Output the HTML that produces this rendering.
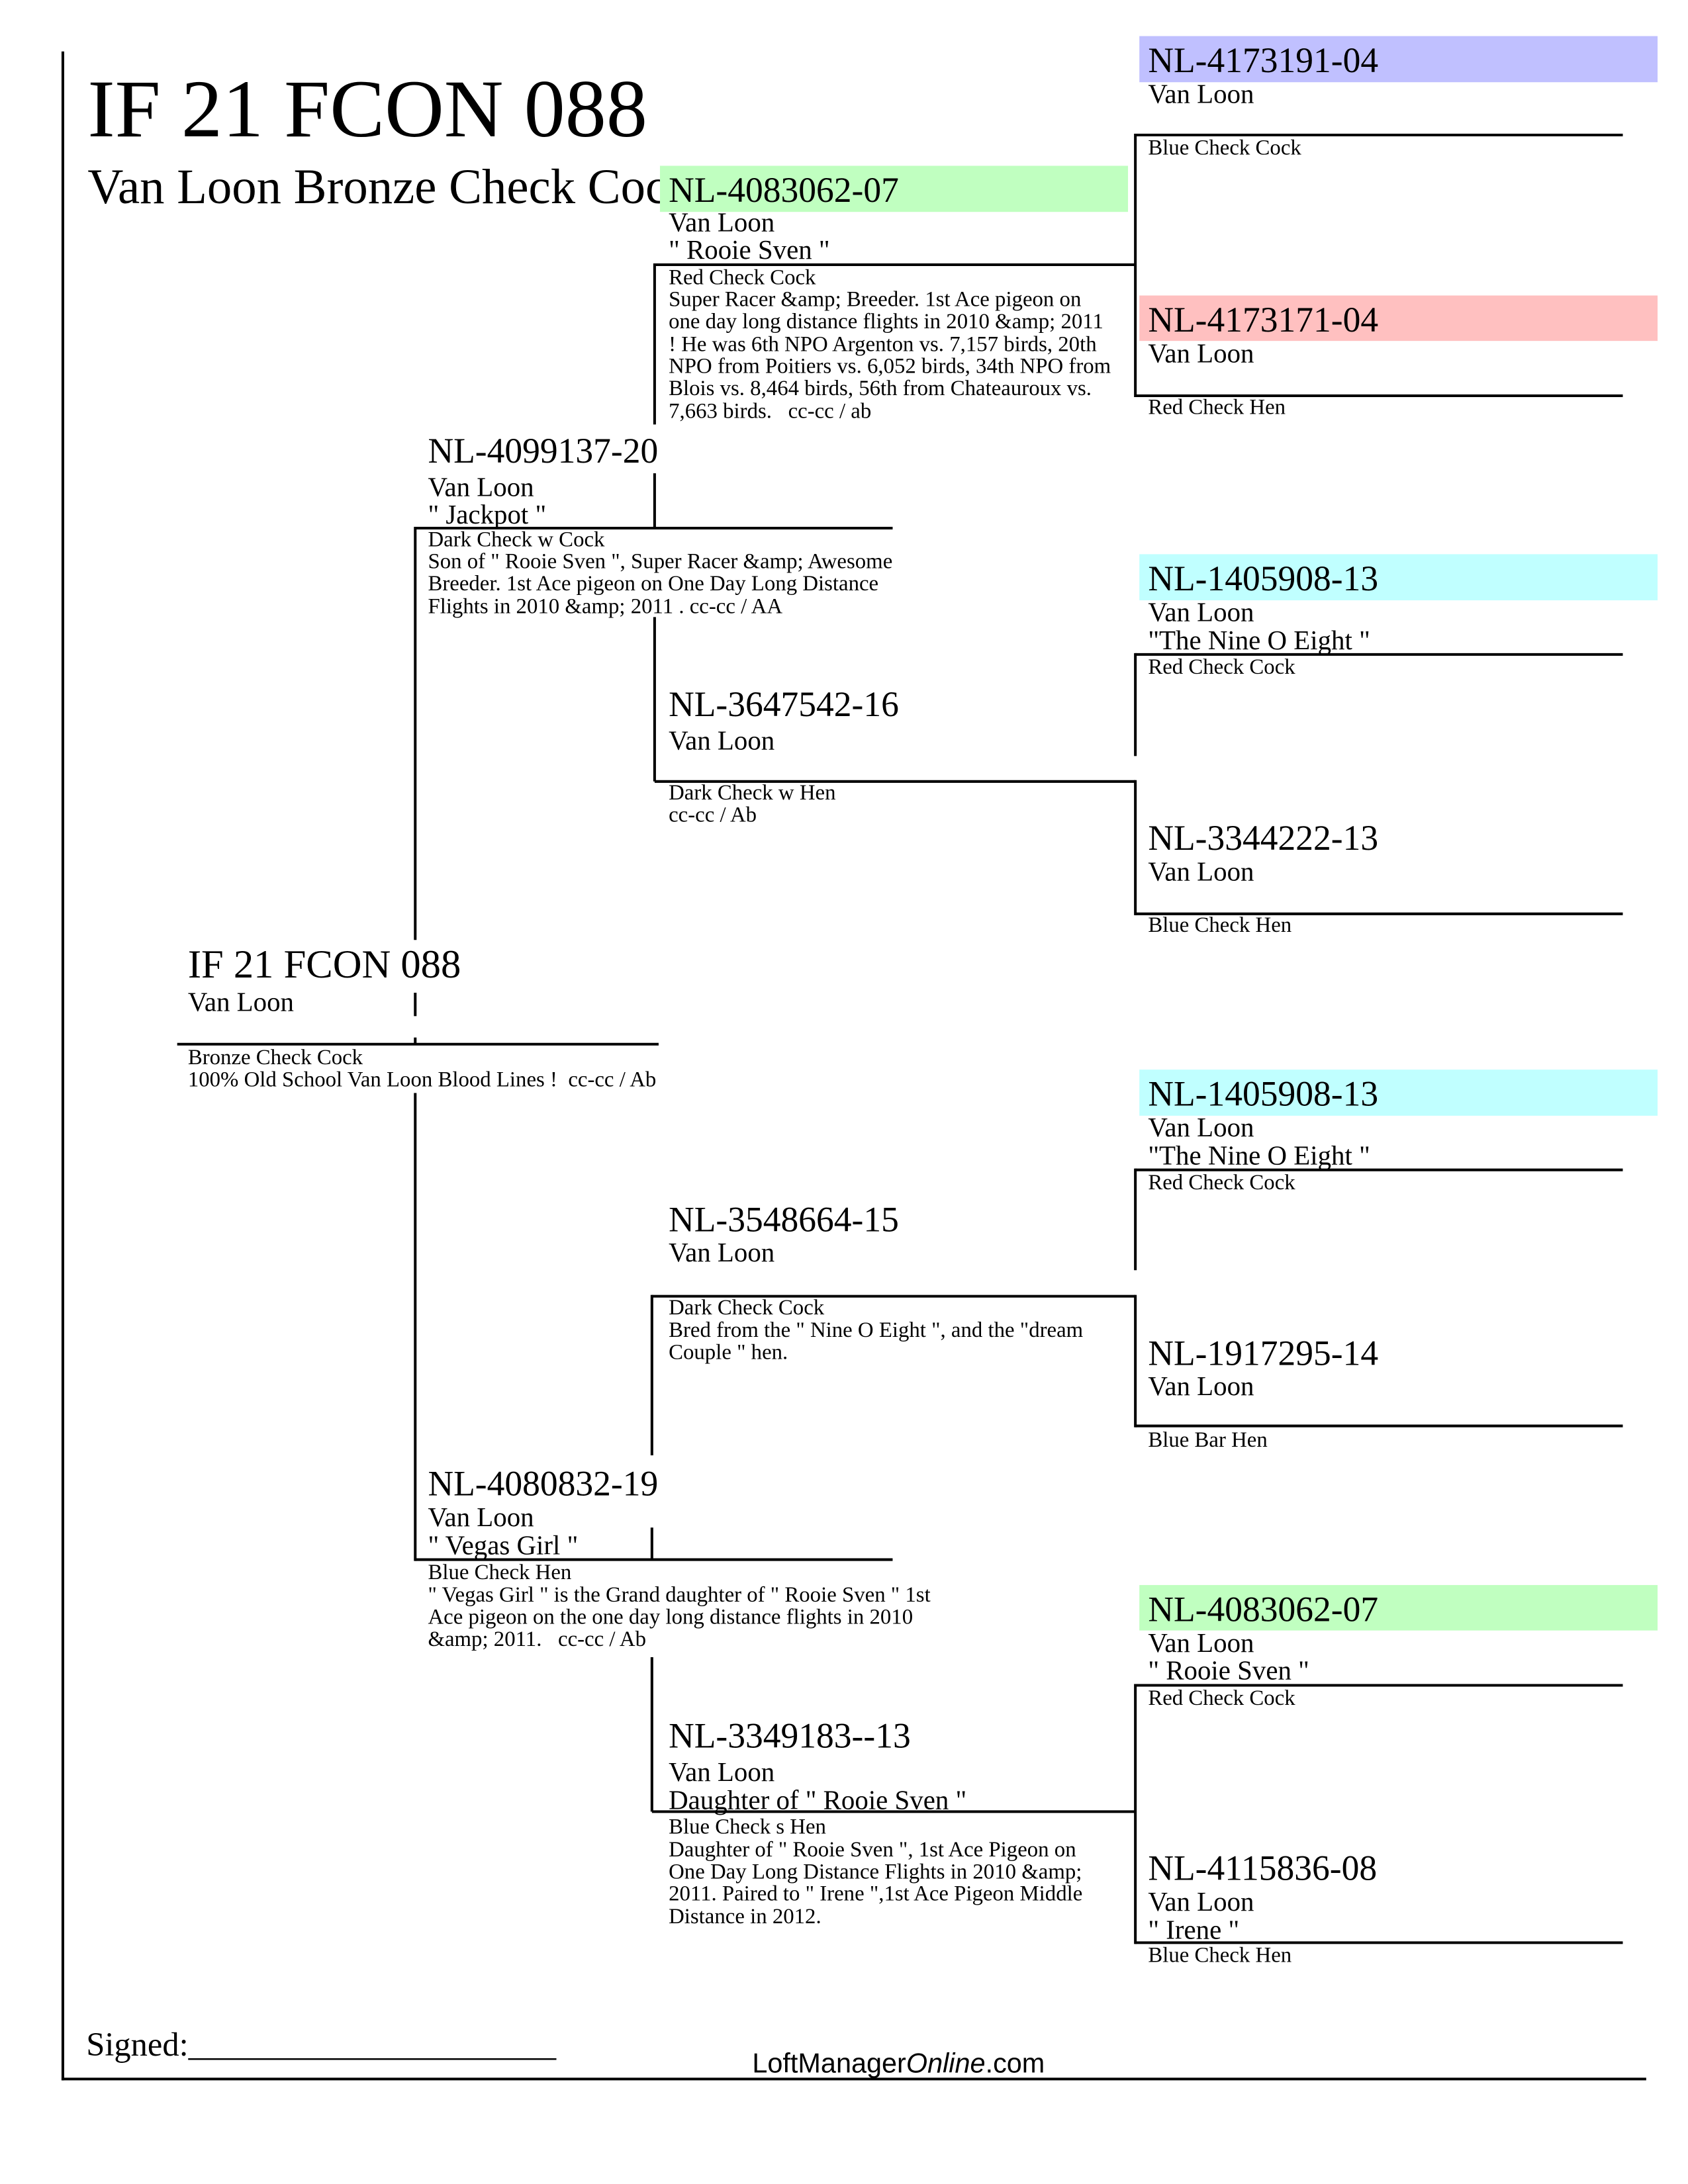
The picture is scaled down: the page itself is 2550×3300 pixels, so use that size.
<!DOCTYPE html>
<html><head><meta charset="utf-8"><style>
html,body{margin:0;padding:0;background:#fff;}
svg{display:block;}
text{font-family:"Liberation Serif",serif;fill:#000;}
.nl{font-size:53px;}
.nm{font-size:40.5px;}
.sm{font-size:32.5px;}
</style></head><body>
<svg width="2550" height="3300" viewBox="0 0 2550 3300" xmlns="http://www.w3.org/2000/svg">
<rect width="2550" height="3300" fill="#fff"/>
<g transform="scale(1.0101)">
<line x1="94" y1="77" x2="94" y2="3112" stroke="#000" stroke-width="4"/>
<line x1="92" y1="3110" x2="2462" y2="3110" stroke="#000" stroke-width="4"/>

<text x="131" y="204" style="font-size:123px">IF 21 FCON 088</text>
<text x="131" y="304" style="font-size:74px">Van Loon Bronze Check Cock</text>

<rect x="1704" y="54" width="775" height="69" fill="#c0c0ff"/>
<rect x="1704" y="442" width="775" height="68" fill="#ffc0c0"/>
<rect x="1704" y="829" width="775" height="69" fill="#c0ffff"/>
<rect x="1704" y="1600" width="775" height="69" fill="#c0ffff"/>
<rect x="1704" y="2371" width="775" height="68" fill="#c0ffc0"/>
<rect x="987" y="248" width="700" height="69" fill="#c0ffc0"/>

<g stroke="#000" stroke-width="4" fill="none">
<line x1="1698" y1="202" x2="2427" y2="202"/>
<line x1="1698" y1="200" x2="1698" y2="594"/>
<line x1="1698" y1="592" x2="2427" y2="592"/>
<line x1="1698" y1="979" x2="2427" y2="979"/>
<line x1="1698" y1="977" x2="1698" y2="1131"/>
<line x1="1698" y1="1167" x2="1698" y2="1369"/>
<line x1="1698" y1="1367" x2="2427" y2="1367"/>
<line x1="1698" y1="1750" x2="2427" y2="1750"/>
<line x1="1698" y1="1748" x2="1698" y2="1900"/>
<line x1="1698" y1="1937" x2="1698" y2="2135"/>
<line x1="1698" y1="2133" x2="2427" y2="2133"/>
<line x1="1698" y1="2521" x2="2427" y2="2521"/>
<line x1="1698" y1="2519" x2="1698" y2="2908"/>
<line x1="1698" y1="2906" x2="2427" y2="2906"/>
<line x1="979" y1="396" x2="1698" y2="396"/>
<line x1="979" y1="394" x2="979" y2="635"/>
<line x1="979" y1="708" x2="979" y2="790"/>
<line x1="979" y1="923" x2="979" y2="1169"/>
<line x1="979" y1="1169" x2="1698" y2="1169"/>
<line x1="975" y1="1939" x2="1698" y2="1939"/>
<line x1="975" y1="1937" x2="975" y2="2177"/>
<line x1="975" y1="2285" x2="975" y2="2333"/>
<line x1="975" y1="2479" x2="975" y2="2710"/>
<line x1="975" y1="2710" x2="1698" y2="2710"/>
<line x1="621" y1="790" x2="1335" y2="790"/>
<line x1="621" y1="788" x2="621" y2="1406"/>
<line x1="621" y1="1485" x2="621" y2="1520"/>
<line x1="621" y1="1552" x2="621" y2="1562"/>
<line x1="621" y1="1635" x2="621" y2="2335"/>
<line x1="621" y1="2333" x2="1335" y2="2333"/>
<line x1="265" y1="1562" x2="985" y2="1562"/>
</g>

<text class="nl" x="1717" y="108">NL-4173191-04</text>
<text class="nm" x="1717" y="154">Van Loon</text>
<text class="sm" x="1717" y="231">Blue Check Cock</text>

<text class="nl" x="1717" y="496">NL-4173171-04</text>
<text class="nm" x="1717" y="542">Van Loon</text>
<text class="sm" x="1717" y="619">Red Check Hen</text>

<text class="nl" x="1717" y="883">NL-1405908-13</text>
<text class="nm" x="1717" y="929">Van Loon</text>
<text class="nm" x="1717" y="971">"The Nine O Eight "</text>
<text class="sm" x="1717" y="1008">Red Check Cock</text>

<text class="nl" x="1717" y="1271">NL-3344222-13</text>
<text class="nm" x="1717" y="1317">Van Loon</text>
<text class="sm" x="1717" y="1394">Blue Check Hen</text>

<text class="nl" x="1717" y="1654">NL-1405908-13</text>
<text class="nm" x="1717" y="1700">Van Loon</text>
<text class="nm" x="1717" y="1742">"The Nine O Eight "</text>
<text class="sm" x="1717" y="1779">Red Check Cock</text>

<text class="nl" x="1717" y="2042">NL-1917295-14</text>
<text class="nm" x="1717" y="2087">Van Loon</text>
<text class="sm" x="1717" y="2164">Blue Bar Hen</text>

<text class="nl" x="1717" y="2425">NL-4083062-07</text>
<text class="nm" x="1717" y="2471">Van Loon</text>
<text class="nm" x="1717" y="2512">" Rooie Sven "</text>
<text class="sm" x="1717" y="2550">Red Check Cock</text>

<text class="nl" x="1717" y="2812">NL-4115836-08</text>
<text class="nm" x="1717" y="2858">Van Loon</text>
<text class="nm" x="1717" y="2900">" Irene "</text>
<text class="sm" x="1717" y="2935">Blue Check Hen</text>

<text class="nl" x="1000" y="302">NL-4083062-07</text>
<text class="nm" x="1000" y="346">Van Loon</text>
<text class="nm" x="1000" y="387">" Rooie Sven "</text>
<text class="sm" x="1000" y="425">Red Check Cock</text>
<text class="sm" x="1000" y="458">Super Racer &amp;amp; Breeder. 1st Ace pigeon on</text>
<text class="sm" x="1000" y="491">one day long distance flights in 2010 &amp;amp; 2011</text>
<text class="sm" x="1000" y="525">! He was 6th NPO Argenton vs. 7,157 birds, 20th</text>
<text class="sm" x="1000" y="558">NPO from Poitiers vs. 6,052 birds, 34th NPO from</text>
<text class="sm" x="1000" y="591">Blois vs. 8,464 birds, 56th from Chateauroux vs.</text>
<text class="sm" x="1000" y="625">7,663 birds.&#160;&#160; cc-cc / ab</text>

<text class="nl" x="1000" y="1071">NL-3647542-16</text>
<text class="nm" x="1000" y="1121">Van Loon</text>
<text class="sm" x="1000" y="1196">Dark Check w Hen</text>
<text class="sm" x="1000" y="1229">cc-cc / Ab</text>

<text class="nl" x="1000" y="1842">NL-3548664-15</text>
<text class="nm" x="1000" y="1887">Van Loon</text>
<text class="sm" x="1000" y="1966">Dark Check Cock</text>
<text class="sm" x="1000" y="2000">Bred from the " Nine O Eight ", and the "dream</text>
<text class="sm" x="1000" y="2033">Couple " hen.</text>

<text class="nl" x="1000" y="2614">NL-3349183--13</text>
<text class="nm" x="1000" y="2664">Van Loon</text>
<text class="nm" x="1000" y="2706">Daughter of " Rooie Sven "</text>
<text class="sm" x="1000" y="2743">Blue Check s Hen</text>
<text class="sm" x="1000" y="2777">Daughter of " Rooie Sven ", 1st Ace Pigeon on</text>
<text class="sm" x="1000" y="2810">One Day Long Distance Flights in 2010 &amp;amp;</text>
<text class="sm" x="1000" y="2843">2011. Paired to " Irene ",1st Ace Pigeon Middle</text>
<text class="sm" x="1000" y="2877">Distance in 2012.</text>

<text class="nl" x="640" y="692">NL-4099137-20</text>
<text class="nm" x="640" y="742">Van Loon</text>
<text class="nm" x="640" y="783">" Jackpot "</text>
<text class="sm" x="640" y="817">Dark Check w Cock</text>
<text class="sm" x="640" y="850">Son of " Rooie Sven ", Super Racer &amp;amp; Awesome</text>
<text class="sm" x="640" y="883">Breeder. 1st Ace pigeon on One Day Long Distance</text>
<text class="sm" x="640" y="917">Flights in 2010 &amp;amp; 2011 . cc-cc / AA</text>

<text class="nl" x="640" y="2237">NL-4080832-19</text>
<text class="nm" x="640" y="2283">Van Loon</text>
<text class="nm" x="640" y="2325">" Vegas Girl "</text>
<text class="sm" x="640" y="2362">Blue Check Hen</text>
<text class="sm" x="640" y="2396">" Vegas Girl " is the Grand daughter of " Rooie Sven " 1st</text>
<text class="sm" x="640" y="2429">Ace pigeon on the one day long distance flights in 2010</text>
<text class="sm" x="640" y="2462">&amp;amp; 2011.&#160;&#160; cc-cc / Ab</text>

<text x="281" y="1462" style="font-size:60px">IF 21 FCON 088</text>
<text class="nm" x="281" y="1512">Van Loon</text>
<text class="sm" x="281" y="1592">Bronze Check Cock</text>
<text class="sm" x="281" y="1625">100% Old School Van Loon Blood Lines !&#160; cc-cc / Ab</text>

<text x="129" y="3075" style="font-size:50px">Signed:______________________</text>
<text x="1125" y="3100" style="font-size:41px;font-family:'Liberation Sans',sans-serif">LoftManager<tspan font-style="italic">Online</tspan>.com</text>
</g>
</svg>
</body></html>
